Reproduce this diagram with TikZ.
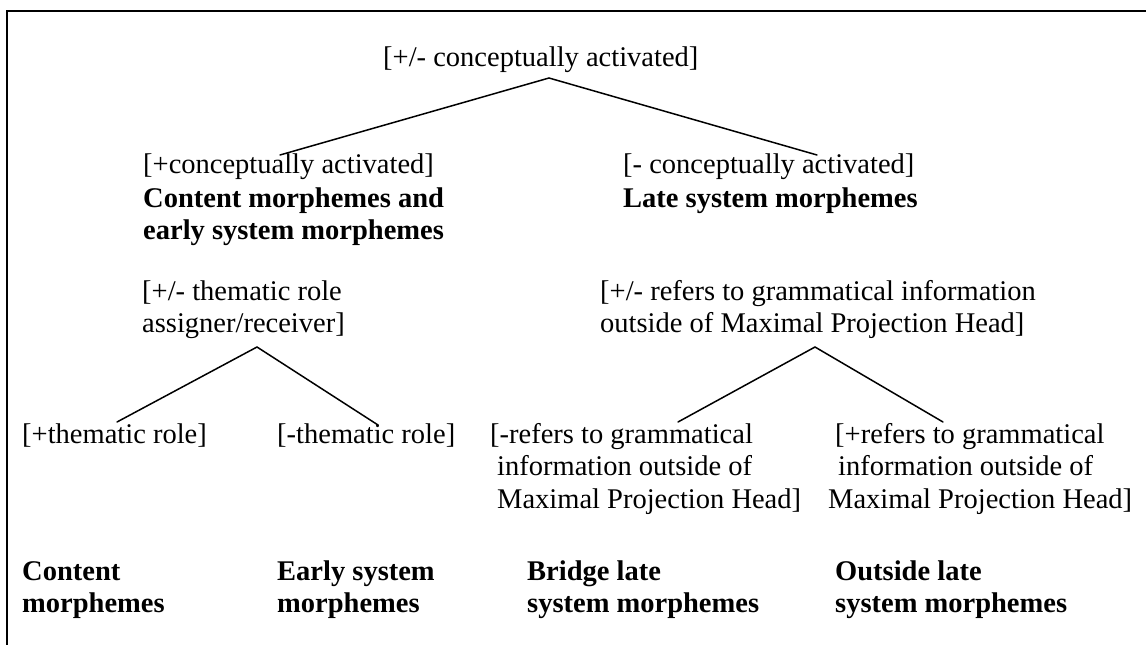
\documentclass[tikz,border=0pt]{standalone}
\usepackage{fontspec}
\setmainfont{Liberation Serif}
% left-aligned block of lines whose baseline is that of the first line
\newcommand\txtstack[1]{\begin{tabular}[t]{@{}l@{}}#1\end{tabular}}
\begin{document}
\begin{tikzpicture}[x=1pt,y=-1pt,
  lbl/.style={anchor=base west, inner sep=0pt, font=\fontsize{28.5}{32.5}\selectfont},
  head/.style={anchor=base west, inner sep=0pt, font=\fontsize{28.5}{32.5}\selectfont\bfseries},
  branch/.style={line width=1.5pt, line cap=round, line join=miter}]
\fill[white] (0,0) rectangle (1146,645);
\useasboundingbox (0,0) rectangle (1146,645);
% frame, open past the right and bottom edges
\begin{scope}
  \clip (0,0) rectangle (1146,645);
  \draw[line width=2.2pt] (7,660) -- (7,11) -- (1160,11);
\end{scope}

% top feature
\node[lbl] (root) at (383,66) {[+/- conceptually activated]};

% first split
\node[lbl]  (plus)  at (143,173) {[+conceptually activated]};
\node[head] (cem)   at (143,207) {\txtstack{Content morphemes and\\early system morphemes}};
\node[lbl]  (minus) at (623,173) {[- conceptually activated]};
\node[head] (lsm)   at (623,207) {Late system morphemes};

% second-level features
\node[lbl] (theta) at (142,300) {\txtstack{[+/- thematic role\\assigner/receiver]}};
\node[lbl] (outer) at (600,300) {\txtstack{[+/- refers to grammatical information\\outside of Maximal Projection Head]}};

% leaves
\node[lbl] (thplus)   at (22,443)  {[+thematic role]};
\node[lbl] (thminus)  at (277,443) {[-thematic role]};
\node[lbl] (refminus) at (490,443) {\txtstack{[-refers to grammatical\\\hspace{7pt}information outside of\\\hspace{7pt}Maximal Projection Head]}};
\node[lbl] (refplus)  at (835,443) {\txtstack{[+refers to grammatical\\\hspace{3pt}information outside of\\\hspace{-7pt}Maximal Projection Head]}};

% morpheme classes
\node[head] (cm)  at (22,580)  {\txtstack{Content\\morphemes}};
\node[head] (esm) at (277,580) {\txtstack{Early system\\morphemes}};
\node[head] (bsm) at (527,580) {\txtstack{Bridge late\\system morphemes}};
\node[head] (osm) at (835,580) {\txtstack{Outside late\\system morphemes}};

% branch points and branch ends
\coordinate (rootJ)      at (549,78);
\coordinate (plusTop)    at (280,155);
\coordinate (minusTop)   at (817,155);
\coordinate (thetaJ)     at (257,347);
\coordinate (thplusTop)  at (117,422);
\coordinate (thminusTop) at (378,425);
\coordinate (outerJ)     at (815,347);
\coordinate (refmTop)    at (678,422);
\coordinate (refpTop)    at (943,422);

\draw[branch] (plusTop) -- (rootJ) -- (minusTop);
\draw[branch] (thplusTop) -- (thetaJ) -- (thminusTop);
\draw[branch] (refmTop) -- (outerJ) -- (refpTop);
\end{tikzpicture}
\end{document}
